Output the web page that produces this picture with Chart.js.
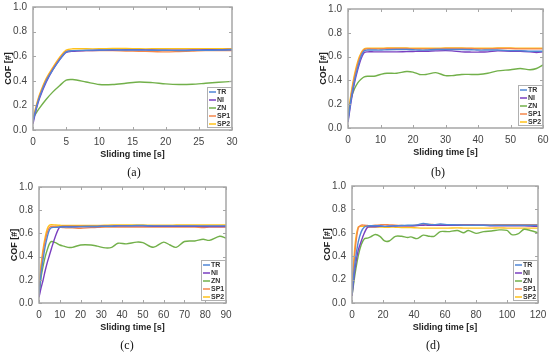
<!DOCTYPE html>
<html>
<head>
<meta charset="utf-8">
<script src="https://cdn.jsdelivr.net/npm/chart.js@4.4.0/dist/chart.umd.min.js"></script>
<style>
  body { margin: 0; background: #fff; }
  #wrap { position: relative; width: 550px; height: 354px; }
  .panel { position: absolute; width: 275px; height: 177px; }
  .cap { position: absolute; font: 12px "Liberation Serif", serif; color: #111; transform: translate(-50%, -50%); }
</style>
</head>
<body>
<div id="wrap">
  <div class="panel" style="left:0;top:0"><canvas id="chartA"></canvas></div>
  <div class="panel" style="left:275px;top:0"><canvas id="chartB"></canvas></div>
  <div class="panel" style="left:0;top:177px"><canvas id="chartC"></canvas></div>
  <div class="panel" style="left:275px;top:177px"><canvas id="chartD"></canvas></div>
  <span class="cap" style="left:134px;top:172px">(a)</span>
  <span class="cap" style="left:438px;top:172px">(b)</span>
  <span class="cap" style="left:127px;top:345px">(c)</span>
  <span class="cap" style="left:433px;top:345px">(d)</span>
</div>
<script>
// series names and colours
const names = ['TR', 'NI', 'ZN', 'SP1', 'SP2'];
const colors = ['#4f86d6', '#7a3fc0', '#72b04a', '#f4874b', '#ffc21a'];

// (a) 0-30 s
const timeA = [0, 0.5, 1, 2, 3, 4, 5, 6, 8, 10, 12, 14, 16, 18, 20, 22, 24, 26, 28, 30];
const trA  = [0.07, 0.18, 0.27, 0.40, 0.49, 0.57, 0.635, 0.645, 0.648, 0.65, 0.652, 0.65, 0.65, 0.648, 0.648, 0.646, 0.647, 0.648, 0.65, 0.652];
const niA  = [0.05, 0.17, 0.26, 0.39, 0.49, 0.57, 0.63, 0.64, 0.645, 0.648, 0.65, 0.652, 0.652, 0.65, 0.648, 0.648, 0.65, 0.652, 0.652, 0.655];
const znA  = [0.10, 0.14, 0.18, 0.25, 0.31, 0.36, 0.405, 0.41, 0.39, 0.37, 0.37, 0.38, 0.39, 0.385, 0.375, 0.37, 0.372, 0.38, 0.388, 0.395];
const sp1A = [0.08, 0.19, 0.28, 0.41, 0.50, 0.58, 0.64, 0.645, 0.645, 0.645, 0.645, 0.642, 0.64, 0.638, 0.635, 0.638, 0.642, 0.645, 0.645, 0.645];
const sp2A = [0.09, 0.20, 0.29, 0.42, 0.51, 0.59, 0.65, 0.66, 0.66, 0.66, 0.662, 0.662, 0.66, 0.66, 0.66, 0.66, 0.66, 0.66, 0.66, 0.66];

// (b) 0-60 s
const timeB = [0, 1, 2, 3, 4, 5, 6, 8, 10, 12, 15, 18, 20, 22, 24, 27, 30, 32, 35, 38, 40, 43, 46, 50, 53, 56, 58, 60];
const trB  = [0.06, 0.25, 0.40, 0.51, 0.60, 0.65, 0.655, 0.655, 0.655, 0.658, 0.66, 0.66, 0.658, 0.655, 0.655, 0.66, 0.66, 0.66, 0.66, 0.658, 0.655, 0.655, 0.655, 0.65, 0.65, 0.645, 0.645, 0.645];
const niB  = [0.05, 0.23, 0.38, 0.49, 0.58, 0.635, 0.64, 0.64, 0.64, 0.64, 0.64, 0.642, 0.643, 0.645, 0.645, 0.648, 0.65, 0.648, 0.64, 0.638, 0.638, 0.64, 0.648, 0.645, 0.645, 0.64, 0.635, 0.64];
const znB  = [0.08, 0.25, 0.33, 0.38, 0.41, 0.43, 0.435, 0.435, 0.45, 0.46, 0.46, 0.475, 0.47, 0.45, 0.45, 0.465, 0.44, 0.44, 0.45, 0.45, 0.45, 0.46, 0.48, 0.49, 0.50, 0.49, 0.50, 0.53];
const sp1B = [0.08, 0.28, 0.43, 0.54, 0.62, 0.66, 0.665, 0.665, 0.665, 0.668, 0.668, 0.668, 0.665, 0.665, 0.665, 0.665, 0.668, 0.668, 0.668, 0.668, 0.665, 0.665, 0.668, 0.668, 0.665, 0.665, 0.665, 0.665];
const sp2B = [0.10, 0.30, 0.45, 0.56, 0.63, 0.665, 0.67, 0.67, 0.67, 0.672, 0.672, 0.672, 0.67, 0.67, 0.67, 0.67, 0.672, 0.672, 0.672, 0.67, 0.67, 0.67, 0.672, 0.672, 0.67, 0.67, 0.67, 0.67];

// (c) 0-90 s
const timeC = [0, 1, 2, 3, 4, 5, 6, 8, 10, 12, 14, 16, 20, 25, 28, 32, 35, 38, 42, 47, 50, 55, 60, 63, 66, 70, 75, 79, 82, 87, 90];
const trC  = [0.08, 0.25, 0.38, 0.49, 0.57, 0.63, 0.65, 0.652, 0.655, 0.655, 0.655, 0.655, 0.658, 0.66, 0.66, 0.662, 0.662, 0.665, 0.665, 0.668, 0.668, 0.665, 0.665, 0.665, 0.665, 0.665, 0.665, 0.665, 0.665, 0.665, 0.665];
const niC  = [0.05, 0.13, 0.20, 0.28, 0.35, 0.41, 0.47, 0.58, 0.655, 0.66, 0.66, 0.66, 0.66, 0.66, 0.66, 0.662, 0.662, 0.665, 0.665, 0.665, 0.665, 0.662, 0.662, 0.662, 0.662, 0.662, 0.662, 0.66, 0.66, 0.66, 0.66];
const znC  = [0.05, 0.22, 0.32, 0.40, 0.46, 0.51, 0.53, 0.52, 0.50, 0.49, 0.48, 0.48, 0.50, 0.50, 0.49, 0.475, 0.48, 0.515, 0.51, 0.525, 0.52, 0.48, 0.525, 0.50, 0.48, 0.53, 0.535, 0.55, 0.54, 0.575, 0.56];
const sp1C = [0.10, 0.30, 0.44, 0.54, 0.61, 0.65, 0.66, 0.66, 0.655, 0.65, 0.648, 0.648, 0.645, 0.65, 0.652, 0.655, 0.655, 0.655, 0.655, 0.655, 0.655, 0.655, 0.655, 0.655, 0.655, 0.655, 0.655, 0.65, 0.655, 0.655, 0.655];
const sp2C = [0.12, 0.33, 0.47, 0.57, 0.64, 0.67, 0.675, 0.672, 0.67, 0.668, 0.668, 0.668, 0.668, 0.668, 0.668, 0.67, 0.672, 0.672, 0.672, 0.672, 0.672, 0.67, 0.67, 0.67, 0.672, 0.672, 0.672, 0.672, 0.672, 0.672, 0.672];

// (d) 0-120 s
const timeD = [0, 2, 4, 6, 8, 10, 12, 15, 18, 21, 24, 28, 32, 36, 38, 42, 46, 50, 53, 57, 62, 68, 72, 75, 80, 85, 90, 95, 100, 103, 107, 111, 115, 120];
const trD  = [0.08, 0.35, 0.52, 0.61, 0.65, 0.658, 0.66, 0.66, 0.66, 0.655, 0.658, 0.66, 0.662, 0.665, 0.665, 0.668, 0.68, 0.672, 0.67, 0.675, 0.67, 0.668, 0.665, 0.665, 0.665, 0.665, 0.665, 0.665, 0.665, 0.665, 0.665, 0.665, 0.665, 0.665];
const niD  = [0.06, 0.30, 0.45, 0.53, 0.60, 0.648, 0.652, 0.652, 0.655, 0.655, 0.655, 0.658, 0.66, 0.66, 0.66, 0.662, 0.665, 0.665, 0.665, 0.665, 0.665, 0.665, 0.665, 0.665, 0.665, 0.665, 0.66, 0.66, 0.66, 0.66, 0.66, 0.66, 0.658, 0.655];
const znD  = [0.06, 0.25, 0.40, 0.50, 0.55, 0.555, 0.565, 0.585, 0.57, 0.53, 0.53, 0.57, 0.57, 0.56, 0.565, 0.55, 0.58, 0.57, 0.57, 0.61, 0.61, 0.62, 0.60, 0.62, 0.595, 0.61, 0.615, 0.625, 0.62, 0.585, 0.59, 0.63, 0.62, 0.60];
const sp1D = [0.10, 0.45, 0.64, 0.665, 0.665, 0.662, 0.66, 0.665, 0.668, 0.67, 0.668, 0.665, 0.662, 0.66, 0.66, 0.665, 0.668, 0.672, 0.67, 0.668, 0.665, 0.668, 0.67, 0.67, 0.668, 0.668, 0.668, 0.67, 0.67, 0.67, 0.67, 0.67, 0.67, 0.67];
const sp2D = [0.12, 0.50, 0.65, 0.655, 0.655, 0.652, 0.65, 0.65, 0.65, 0.648, 0.648, 0.648, 0.645, 0.645, 0.645, 0.642, 0.64, 0.64, 0.64, 0.64, 0.64, 0.642, 0.64, 0.64, 0.64, 0.64, 0.64, 0.642, 0.64, 0.64, 0.64, 0.64, 0.64, 0.64];

const yTicks = [0, 0.2, 0.4, 0.6, 0.8, 1.0];

// frame, inward tick marks and the little legend box in the corner
const framePlugin = {
    id: 'frame',
    afterDatasetsDraw(chart) {
        const ctx = chart.ctx;
        const a = chart.chartArea;
        const xs = chart.scales.x, ys = chart.scales.y;
        ctx.save();
        ctx.strokeStyle = '#a6a6a6';
        ctx.lineWidth = 1;
        ctx.beginPath();
        xs.ticks.forEach(t => {
            const px = Math.round(xs.getPixelForValue(t.value)) + 0.5;
            ctx.moveTo(px, a.bottom); ctx.lineTo(px, a.bottom - 3);
            ctx.moveTo(px, a.top); ctx.lineTo(px, a.top + 3);
        });
        ys.ticks.forEach(t => {
            const py = Math.round(ys.getPixelForValue(t.value)) + 0.5;
            ctx.moveTo(a.left, py); ctx.lineTo(a.left + 3, py);
            ctx.moveTo(a.right, py); ctx.lineTo(a.right - 3, py);
        });
        ctx.stroke();
        ctx.lineWidth = 1.5;
        ctx.strokeRect(a.left, a.top, a.right - a.left, a.bottom - a.top);

        // legend
        const w = 25, h = 41;
        const bx = a.right - w, by = a.bottom - h - 2;
        ctx.fillStyle = '#fff';
        ctx.fillRect(bx, by, w, h);
        ctx.lineWidth = 1;
        ctx.strokeStyle = '#b0b0b0';
        ctx.strokeRect(bx + 0.5, by + 0.5, w - 1, h - 1);
        ctx.font = 'bold 7px "Liberation Sans", Arial, sans-serif';
        ctx.textBaseline = 'middle';
        chart.data.datasets.forEach((ds, i) => {
            const y = by + 5 + i * 8;
            ctx.strokeStyle = ds.borderColor;
            ctx.lineWidth = 1.5;
            ctx.beginPath();
            ctx.moveTo(bx + 2, y); ctx.lineTo(bx + 9, y);
            ctx.stroke();
            ctx.fillStyle = '#333';
            ctx.fillText(ds.label, bx + 10, y + 0.5);
        });
        ctx.restore();
    }
};

function makeChart(id, times, series, xMax, xStep, pad, yWidth) {
    const datasets = series.map((vals, i) => ({
        label: names[i],
        data: vals.map((v, k) => ({ x: times[k], y: v })),
        borderColor: colors[i],
        borderWidth: 1.4,
        pointRadius: 0,
        tension: 0.3,
        fill: false
    }));
    return new Chart(document.getElementById(id), {
        type: 'line',
        data: { datasets },
        plugins: [framePlugin],
        options: {
            responsive: false,
            animation: false,
            layout: { padding: pad },
            plugins: { legend: { display: false }, tooltip: { enabled: false } },
            scales: {
                x: {
                    type: 'linear', min: 0, max: xMax,
                    grid: { display: false, drawTicks: false },
                    border: { display: false },
                    ticks: { stepSize: xStep, padding: 6, color: '#444', font: { family: 'Liberation Sans', size: 10 } },
                    title: { display: true, text: 'Sliding time [s]', color: '#222', padding: { top: 2, bottom: 0 },
                             font: { family: 'Liberation Sans', size: 9, weight: 'bold' } },
                    afterFit: s => { s.height = 30; s.paddingLeft = 0; s.paddingRight = 0; }
                },
                y: {
                    min: 0, max: 1,
                    grid: { display: false, drawTicks: false },
                    border: { display: false },
                    afterBuildTicks: s => { s.ticks = yTicks.map(v => ({ value: v })); },
                    ticks: { padding: 6, color: '#444', font: { family: 'Liberation Sans', size: 10 },
                             callback: v => v.toFixed(1) },
                    title: { display: true, text: 'COF [#]', color: '#222', padding: { top: 3, bottom: 0 },
                             font: { family: 'Liberation Sans', size: 9, weight: 'bold' } },
                    afterFit: s => { s.width = yWidth; s.paddingTop = 0; s.paddingBottom = 0; }
                }
            }
        }
    });
}

['chartA', 'chartB', 'chartC', 'chartD'].forEach(id => {
    const c = document.getElementById(id);
    c.width = 275; c.height = 177;
});

makeChart('chartA', timeA, [trA, niA, znA, sp1A, sp2A], 30, 5, { left: 0, right: 43, top: 7, bottom: 17 }, 33);
makeChart('chartB', timeB, [trB, niB, znB, sp1B, sp2B], 60, 10, { left: 40, right: 7, top: 9, bottom: 19 }, 33);
makeChart('chartC', timeC, [trC, niC, znC, sp1C, sp2C], 90, 10, { left: 6, right: 49, top: 10, bottom: 21 }, 33);
makeChart('chartD', timeD, [trD, niD, znD, sp1D, sp2D], 120, 20, { left: 44, right: 12, top: 9, bottom: 21 }, 33);
</script>
</body>
</html>
